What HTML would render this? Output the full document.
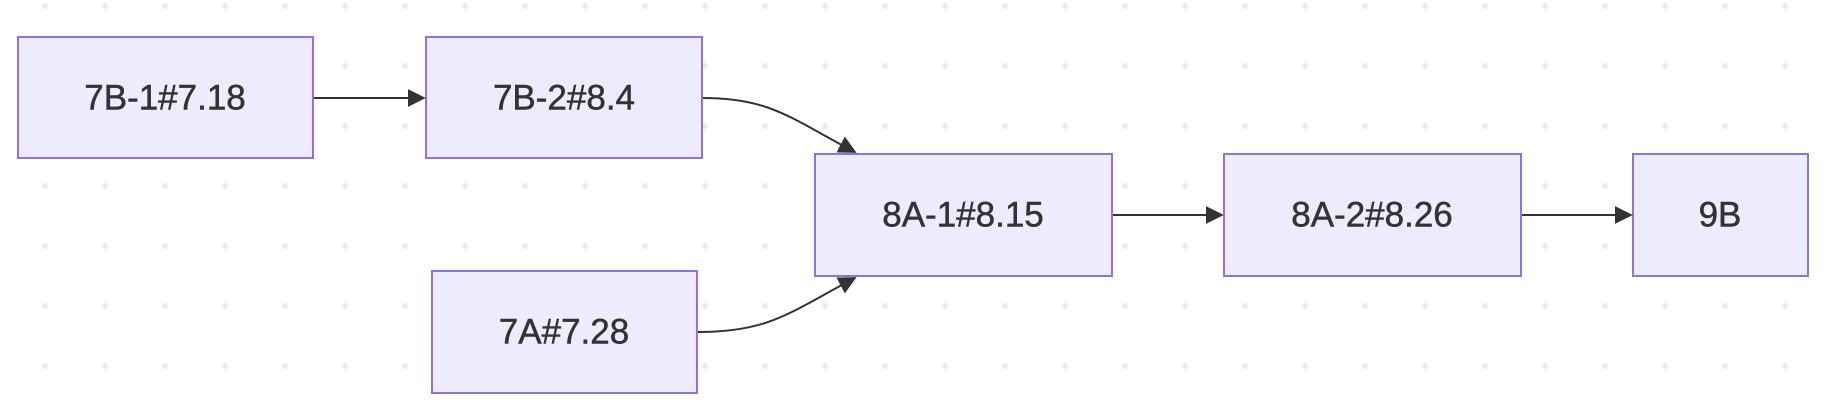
<!DOCTYPE html>
<html><head><meta charset="utf-8"><style>
html,body{margin:0;padding:0;background:#fff;}
svg{display:block;}
text{font-family:"Liberation Sans","DejaVu Sans",sans-serif;font-size:35px;fill:#333;stroke:#333;stroke-width:0.5;text-anchor:middle;dominant-baseline:central;}
</style></head><body>
<svg width="1834" height="414" viewBox="0 0 1834 414" xmlns="http://www.w3.org/2000/svg">
<defs>
<pattern id="dots" x="15" y="-24" width="60" height="60" patternUnits="userSpaceOnUse">
<circle cx="30" cy="30" r="3" fill="#ececec"/>
</pattern>
<marker id="ah" viewBox="0 0 10 10" refX="9" refY="5" markerWidth="9" markerHeight="9" orient="auto" markerUnits="strokeWidth">
<path d="M0,0 L10,5 L0,10 z" fill="#333"/>
</marker>
</defs>
<rect width="1834" height="414" fill="url(#dots)"/>
<g fill="#ececfe" stroke="#9370db" stroke-width="2">
<rect x="18" y="37" width="295" height="121"/>
<rect x="426" y="37" width="276" height="121"/>
<rect x="432" y="271" width="265" height="122"/>
<rect x="815" y="154" width="297" height="122"/>
<rect x="1224" y="154" width="297" height="122"/>
<rect x="1633" y="154" width="175" height="122"/>
</g>
<g stroke="#333" stroke-width="2" fill="none" marker-end="url(#ah)">
<path d="M314,98 L424,98"/>
<path d="M703,98 C770,98 790,118 855,152"/>
<path d="M698,332 C770,332 790,312 855,278"/>
<path d="M1113,215 L1222,215"/>
<path d="M1522,215 L1631,215"/>
</g>
<text x="165" y="98">7B-1#7.18</text>
<text x="564" y="98">7B-2#8.4</text>
<text x="564" y="332">7A#7.28</text>
<text x="963" y="215">8A-1#8.15</text>
<text x="1372" y="215">8A-2#8.26</text>
<text x="1720" y="215">9B</text>
</svg>
</body></html>
